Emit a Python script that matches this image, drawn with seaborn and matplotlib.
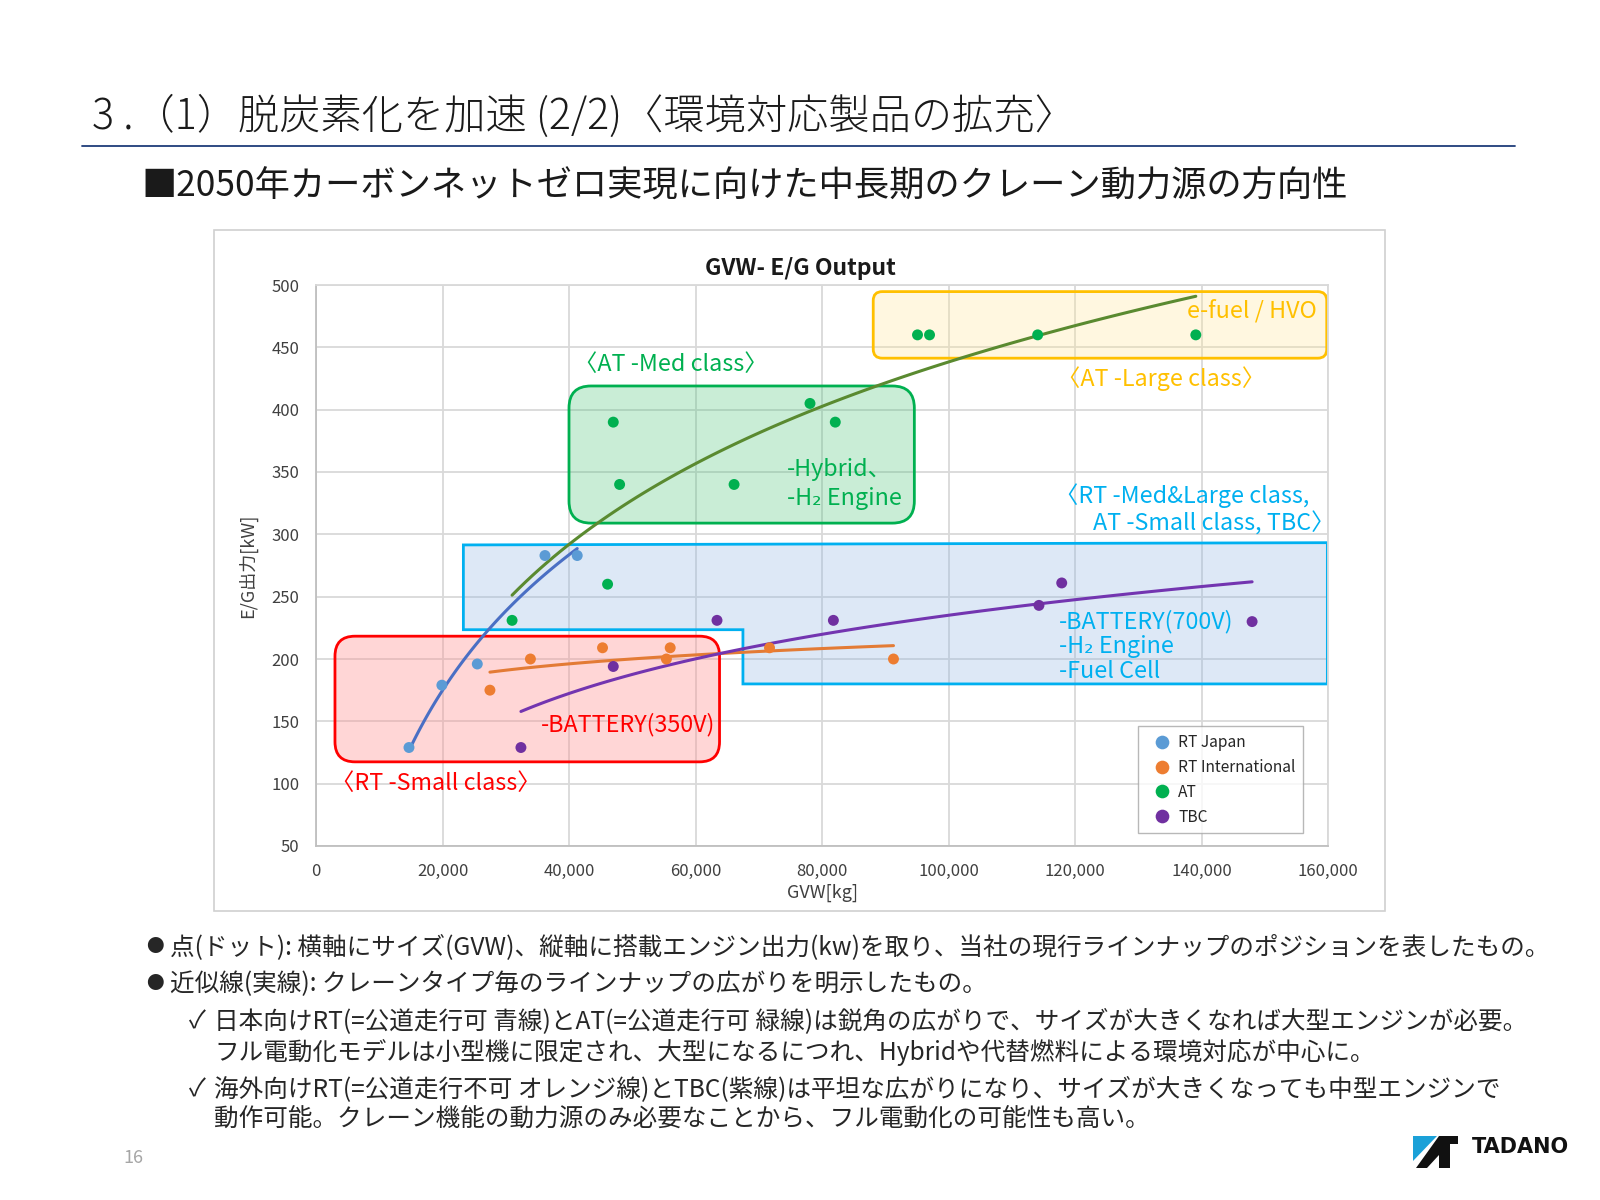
import numpy as np
import pandas as pd
import seaborn as sns
import matplotlib.pyplot as plt
from matplotlib.patches import FancyBboxPatch, Polygon, Rectangle
from matplotlib.lines import Line2D

# ---- data ----
rt_japan_gvw = [14700, 19900, 25500, 36200, 41300]
rt_japan_kw = [129, 179, 196, 283, 283]

rt_intl_gvw = [27500, 33900, 45300, 55400, 56000, 71700, 91300]
rt_intl_kw = [175, 200, 209, 200, 209, 209, 200]

at_gvw = [31000, 46100, 47000, 48000, 66100, 78100, 82100, 95100, 97000, 114100, 139100]
at_kw = [231, 260, 390, 340, 340, 405, 390, 460, 460, 460, 460]

tbc_gvw = [32400, 47000, 63400, 81800, 114300, 117900, 148000]
tbc_kw = [129, 194, 231, 231, 243, 261, 230]

series_names = ['RT Japan', 'RT International', 'AT', 'TBC']
dot_colors = ['#5B9BD5', '#ED7D31', '#00B050', '#7030A0']
line_colors = ['#4A6FC4', '#E37B35', '#5A8A30', '#7335B0']

x_ticks = list(range(0, 160001, 20000))
y_ticks = list(range(50, 501, 50))

bullets = [
    '点(ドット): 横軸にサイズ(GVW)、縦軸に搭載エンジン出力(kw)を取り、当社の現行ラインナップのポジションを表したもの。',
    '近似線(実線): クレーンタイプ毎のラインナップの広がりを明示したもの。',
]
checks = [
    ['日本向けRT(=公道走行可 青線)とAT(=公道走行可 緑線)は鋭角の広がりで、サイズが大きくなれば大型エンジンが必要。',
     'フル電動化モデルは小型機に限定され、大型になるにつれ、Hybridや代替燃料による環境対応が中心に。'],
    ['海外向けRT(=公道走行不可 オレンジ線)とTBC(紫線)は平坦な広がりになり、サイズが大きくなっても中型エンジンで',
     '動作可能。クレーン機能の動力源のみ必要なことから、フル電動化の可能性も高い。'],
]

sns.set_theme(style='white')
plt.rcParams['font.family'] = ['Noto Sans CJK JP', 'DejaVu Sans']

W, H = 1600, 1200
fig = plt.figure(figsize=(16, 12), dpi=100)


def fx(px):
    return px / W


def fy(py):
    return 1 - py / H


# slide header
fig.text(fx(92), fy(117), '3 .（1）脱炭素化を加速 (2/2)〈環境対応製品の拡充〉',
         fontsize=29.7, va='center', ha='left', color='#1A1A1A', fontweight='light')
fig.add_artist(Line2D([fx(82), fx(1515)], [fy(146), fy(146)], color='#1F3D7A', lw=1.3))
fig.text(fx(141), fy(187), '■2050年カーボンネットゼロ実現に向けた中長期のクレーン動力源の方向性',
         fontsize=25.4, va='center', ha='left', color='#1A1A1A')

# chart frame
fig.add_artist(Rectangle((fx(214), fy(911)), fx(1385) - fx(214), fy(230) - fy(911),
                         transform=fig.transFigure, fill=False, edgecolor='#D0D0D0', lw=1.2))
fig.text(fx(800), fy(268), 'GVW- E/G Output', fontsize=16.5, fontweight='bold',
         color='#1A1A1A', ha='center', va='center')

ax_l, ax_r, ax_t, ax_b = 316, 1328, 285, 846
ax = fig.add_axes([fx(ax_l), fy(ax_b), fx(ax_r) - fx(ax_l), fy(ax_t) - fy(ax_b)])

# points
frames = []
for name, g, k in zip(series_names, [rt_japan_gvw, rt_intl_gvw, at_gvw, tbc_gvw],
                      [rt_japan_kw, rt_intl_kw, at_kw, tbc_kw]):
    frames.append(pd.DataFrame({'GVW': g, 'kW': k, 'type': name}))
df = pd.concat(frames, ignore_index=True)

sns.scatterplot(data=df, x='GVW', y='kW', hue='type', hue_order=series_names,
                palette=dot_colors, s=62, edgecolor='none', ax=ax, zorder=5)

# logarithmic trendlines (Excel style)
for name, col in zip(series_names, line_colors):
    sub = df[df['type'] == name]
    sns.regplot(x=sub['GVW'].to_numpy(), y=sub['kW'].to_numpy(), logx=True, ci=None,
                scatter=False, ax=ax, line_kws=dict(color=col, lw=2.2, zorder=4))

ax.set_xlim(0, 160000)
ax.set_ylim(50, 500)
ax.set_xticks(x_ticks)
ax.set_xticklabels([f'{v:,}' for v in x_ticks])
ax.set_yticks(y_ticks)
ax.tick_params(length=0, labelsize=12, colors='#404040', pad=12)
ax.grid(True, color='#D9D9D9', lw=1.3)
ax.set_axisbelow(True)
for sp in ax.spines.values():
    sp.set_color('#D9D9D9')
    sp.set_linewidth(1.3)
ax.spines['left'].set_color('#BFBFBF')
ax.spines['bottom'].set_color('#BFBFBF')
ax.set_xlabel('GVW[kg]', fontsize=13, color='#404040', labelpad=3)
ax.set_ylabel('E/G出力[kW]', fontsize=13, color='#404040', labelpad=10)

# region boxes
x_per_px = 160000 / (ax_r - ax_l)
y_per_px = 450 / (ax_b - ax_t)
asp = y_per_px / x_per_px


def round_box(x0, y0, x1, y1, r_px, edge, face):
    p = FancyBboxPatch((x0, y0), x1 - x0, y1 - y0,
                       boxstyle=f'round,pad=0,rounding_size={r_px * x_per_px}',
                       mutation_aspect=asp, edgecolor=edge, facecolor=face,
                       lw=2.0, zorder=2, transform=ax.transData)
    ax.add_patch(p)


round_box(3000, 117.5, 63800, 218.3, 20, '#FF0000', (1.0, 0.55, 0.55, 0.35))
round_box(40000, 309, 94600, 419, 22, '#00B050', (0.30, 0.77, 0.48, 0.30))
round_box(88100, 441.3, 159800, 494.7, 9, '#FFC000', (1.0, 0.90, 0.60, 0.30))
ax.add_patch(Polygon([(23300, 291.5), (159900, 293.3), (159900, 180), (67500, 180),
                      (67500, 223.5), (23300, 223.5)], closed=True, edgecolor='#00B0F0',
                     facecolor=(0.56, 0.71, 0.89, 0.30), lw=2.0, zorder=2))

# annotations
fs = 16.8
green, yellow, cyan, red = '#00B050', '#FFC000', '#00B0F0', '#FF0000'
ax.text(40750, 436, '〈AT -Med class〉', color=green, fontsize=fs, va='center')
ax.text(74400, 352, '-Hybrid、', color=green, fontsize=fs, va='center')
ax.text(74400, 329, '-H₂ Engine', color=green, fontsize=fs, va='center')
ax.text(158200, 479, 'e-fuel / HVO', color=yellow, fontsize=fs, va='center', ha='right')
ax.text(117200, 425, '〈AT -Large class〉', color=yellow, fontsize=fs, va='center')
ax.text(116900, 331, '〈RT -Med&Large class,', color=cyan, fontsize=fs, va='center')
ax.text(122800, 309, 'AT -Small class, TBC〉', color=cyan, fontsize=fs, va='center')
ax.text(117400, 230, '-BATTERY(700V)', color=cyan, fontsize=fs, va='center')
ax.text(117400, 210, '-H₂ Engine', color=cyan, fontsize=fs, va='center')
ax.text(117400, 190, '-Fuel Cell', color=cyan, fontsize=fs, va='center')
ax.text(35500, 147, '-BATTERY(350V)', color=red, fontsize=fs, va='center')
ax.text(2350, 100, '〈RT -Small class〉', color=red, fontsize=fs, va='center')

sns.move_legend(ax, 'upper left', bbox_to_anchor=(0.805, 0.227), title=None,
                frameon=True, fancybox=False, edgecolor='#A6A6A6', fontsize=11.2,
                labelspacing=0.5, handletextpad=0.05, borderpad=0.5, markerscale=1.25)
ax.get_legend().get_frame().set_linewidth(1.0)
ax.get_legend().set_zorder(6)

# bullet text
bfs = 17.7
fig.text(fx(146), fy(947), '●', fontsize=bfs - 5, va='center')
fig.text(fx(170), fy(947), bullets[0], fontsize=bfs, va='center')
fig.text(fx(146), fy(984), '●', fontsize=bfs - 5, va='center')
fig.text(fx(170), fy(984), bullets[1], fontsize=bfs, va='center')
for (l1, l2), y in zip(checks, [1021, 1089]):
    fig.text(fx(189), fy(y), '✓', fontsize=bfs, va='center')
    fig.text(fx(214), fy(y), l1, fontsize=bfs, va='center')
    fig.text(fx(214), fy(y + 31), l2, fontsize=bfs, va='center')

# footer
fig.text(fx(123), fy(1158), '16', fontsize=13, color='#A6A6A6', va='center')
fig.add_artist(Polygon([(fx(1413), fy(1136)), (fx(1437), fy(1136)), (fx(1413), fy(1161))],
                       closed=True, transform=fig.transFigure, facecolor='#1BA1D8', edgecolor='none'))
fig.add_artist(Polygon([(fx(1439), fy(1136)), (fx(1458), fy(1136)), (fx(1458), fy(1144)),
                        (fx(1450), fy(1144)), (fx(1450), fy(1168)), (fx(1439), fy(1168)),
                        (fx(1439), fy(1155)), (fx(1427), fy(1168)), (fx(1416), fy(1168))],
                       closed=True, transform=fig.transFigure, facecolor='#111111', edgecolor='none'))
fig.text(fx(1472), fy(1147), 'TADANO', fontsize=15, fontweight='bold', family='DejaVu Sans',
         va='center', color='#111111')

fig.savefig('out.png', dpi=100)
